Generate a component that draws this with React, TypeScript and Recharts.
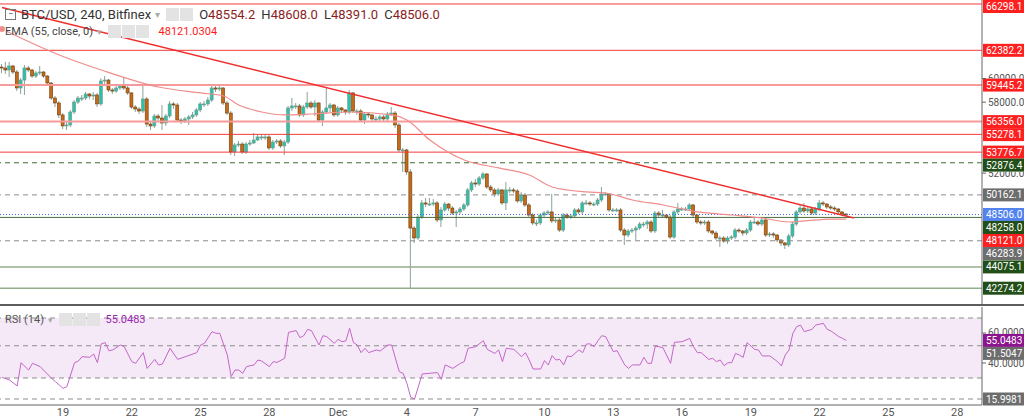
import React from "react";
import {
  ComposedChart,
  Bar,
  Line,
  XAxis,
  YAxis,
  ReferenceLine,
  ReferenceArea,
} from "recharts";

// 4h candles, Nov 16 08:00 -> Dec 23 (index 0..221); axis runs on to Dec 29
const FIRST_OPEN = 60970;

const closes = [
  60890, 60720, 61060, 60550, 59200, 59870, 60890, 60720, 60210, 60470,
  60550, 60210, 59620, 58350, 57930, 56920, 55990, 56070, 57170, 58010,
  58350, 58350, 58690, 58520, 58610, 57850, 59790, 59870, 59030, 58940,
  59200, 59370, 59200, 58780, 57590, 57420, 57250, 58270, 56150, 55990,
  56830, 56660, 56240, 56830, 57850, 57760, 56490, 56410, 56580, 56750,
  56920, 57340, 57850, 57850, 58180, 59200, 59110, 59200, 57930, 57080,
  53790, 54380, 54460, 53790, 54460, 54550, 54800, 55060, 55060, 55060,
  54130, 54630, 54720, 54300, 54630, 57510, 57680, 57680, 56920, 57590,
  57930, 57590, 57930, 56490, 57170, 57510, 57760, 56920, 57510, 57340,
  57170, 58780, 57250, 57250, 56490, 57000, 56920, 56580, 56580, 56750,
  56580, 57000, 57080, 56070, 53960, 53960, 52100, 47360, 46520, 48290,
  49480, 49390, 49390, 49480, 48040, 48890, 49390, 49050, 48630, 48720,
  48970, 49310, 50580, 51170, 51080, 51590, 51930, 50830, 50580, 50240,
  50580, 49480, 50580, 50580, 50490, 49650, 50150, 49310, 48460, 47790,
  47790, 48460, 48630, 48720, 47960, 48040, 47190, 48460, 48290, 48380,
  48890, 48720, 49480, 49480, 49390, 49390, 49730, 50240, 50240, 48890,
  48890, 48890, 47190, 46770, 47110, 47190, 47360, 47700, 47700, 47870,
  47110, 48630, 48460, 48460, 48290, 46600, 48720, 48970, 48970, 48970,
  49310, 48460, 47870, 47790, 47870, 47110, 46940, 46520, 46520, 46260,
  46520, 46600, 47190, 47110, 46940, 47190, 47870, 47870, 47700, 48040,
  46770, 46860, 46770, 46350, 46100, 45930, 46690, 47700, 48720, 49050,
  48800, 48970, 48630, 48970, 49480, 49390, 49140, 49050, 48970, 48720,
  48550, 48506,
];

const highs = [
  61230, 61400, 61400, 61150, 60720, 60040, 61140, 61060, 60800, 60640,
  61060, 60640, 60300, 59700, 58520, 58100, 57080, 56320, 57340, 58180,
  58520, 58610, 58860, 58780, 58860, 58780, 60040, 60210, 59960, 59200,
  59370, 59540, 60130, 59370, 58860, 57760, 57590, 59450, 58440, 56320,
  57000, 57000, 57760, 57000, 58100, 58020, 57930, 56660, 56750, 56920,
  57170, 57510, 58020, 58100, 58440, 59450, 59450, 59450, 59280, 58100,
  57250, 54550, 54720, 54630, 54630, 54800, 55390, 55310, 55310, 55220,
  55220, 54800, 54890, 54890, 54800, 57680, 58350, 57930, 57850, 57760,
  58860, 58100, 58180, 58020, 57340, 59280, 57930, 57850, 57680, 57590,
  57420, 59030, 58860, 57420, 57420, 57170, 57170, 57000, 56830, 56920,
  56920, 57170, 57590, 57250, 56240, 54130, 54040, 52350, 47530, 48460,
  49730, 49900, 49900, 49810, 49650, 49140, 49560, 49480, 49220, 48890,
  49140, 49480, 50750, 51340, 51500, 51760, 52100, 52010, 51000, 50750,
  50750, 50660, 51250, 50830, 50750, 50660, 50410, 50320, 49480, 48630,
  48040, 48630, 48800, 48890, 50240, 48210, 48210, 48630, 48630, 48550,
  49050, 49050, 49650, 49730, 49650, 49560, 49900, 50830, 50410, 50320,
  49050, 49050, 49050, 47360, 47280, 47360, 47530, 47870, 47870, 48040,
  48040, 48800, 48800, 48890, 48550, 48460, 48890, 49480, 49140, 49140,
  49480, 49390, 48550, 48040, 48040, 48040, 47190, 47110, 46690, 46690,
  46690, 46770, 47360, 47360, 47190, 47360, 48040, 48290, 48040, 48290,
  48130, 47020, 47020, 46860, 46430, 46180, 46860, 47870, 48890, 49310,
  49480, 49140, 49140, 49140, 49730, 49650, 49480, 49310, 49220, 49050,
  48800, 48608,
];

const lows = [
  60460, 60380, 60130, 60380, 58940, 58690, 58610, 60550, 60040, 60040,
  60300, 60040, 59370, 58180, 57590, 56660, 55730, 55650, 55900, 57000,
  57850, 58100, 58180, 58270, 58180, 57590, 57680, 59540, 58860, 58690,
  58780, 59030, 59030, 58610, 57420, 57170, 57000, 57080, 55900, 55650,
  55820, 56320, 55650, 55990, 56660, 57420, 56320, 56150, 56240, 56070,
  56580, 56750, 57170, 57590, 57680, 58020, 58860, 58940, 57760, 56920,
  53530, 53450, 54210, 53620, 53620, 54300, 54460, 54720, 54800, 54800,
  53960, 53960, 54460, 54130, 53530, 54460, 57250, 57420, 56750, 56750,
  57420, 57420, 56830, 56320, 55990, 57000, 57170, 56750, 56750, 57080,
  56920, 57000, 57080, 56920, 56320, 56150, 56660, 56320, 56410, 56410,
  56320, 56410, 56830, 55820, 53790, 52100, 51850, 42200, 46100, 46350,
  48130, 49140, 49220, 49220, 47870, 47450, 48720, 48800, 48460, 47450,
  48550, 48800, 49140, 50410, 50830, 50910, 51420, 50660, 50410, 49980,
  50070, 49310, 48890, 50320, 50320, 49480, 49480, 49140, 48290, 47620,
  47530, 47620, 48290, 48460, 47790, 47790, 47020, 47020, 48130, 48130,
  48210, 48550, 48550, 49310, 49220, 49220, 49220, 49560, 50070, 48720,
  48720, 48720, 47020, 45930, 46600, 46940, 46350, 47190, 47450, 47280,
  46940, 46940, 48290, 48290, 48130, 46430, 46430, 48550, 48800, 48800,
  48800, 48290, 47700, 47620, 47620, 46940, 46770, 46350, 45760, 46100,
  46020, 46350, 46430, 46940, 46690, 46770, 47020, 47700, 47530, 47530,
  46600, 46600, 46520, 46180, 45840, 45590, 45760, 46520, 47530, 48550,
  48630, 48630, 48460, 48460, 48800, 49220, 48970, 48890, 48800, 48550,
  48380, 48391,
];

// EMA(55) at [candle index, value]
const emaReadings: [number, number][] = [
  [0, 64185], [15, 61990], [26, 60720], [41, 59280], [52, 58780],
  [58, 58520], [62, 57760], [68, 57170], [74, 56920], [81, 57000],
  [91, 57170], [102, 56920], [106, 56490], [112, 54800], [121, 53110],
  [130, 52440], [138, 51840], [144, 50830], [153, 50410], [158, 50320],
  [165, 49730], [173, 49310], [182, 48720], [191, 48460], [199, 48210],
  [206, 47870], [210, 47960], [217, 48120], [221, 48121],
];

const rsiReadings: [number, number][] = [
  [0, 30.4], [2, 28.7], [4, 24.7], [5, 40.2], [7, 35.3], [8, 39.8], [10, 37.6],
  [13, 29.8], [14, 27.6], [16, 23.1], [17, 24.2], [19, 40.2], [20, 41.3],
  [21, 44.2], [23, 43.8], [24, 46.0], [25, 40.2], [26, 52.7], [27, 53.6],
  [28, 48.2], [29, 48.7], [31, 52.0], [32, 50.9], [34, 40.9], [35, 39.8],
  [37, 46.9], [38, 36.4], [40, 42.4], [41, 38.7], [42, 39.3], [44, 49.8],
  [46, 42.4], [48, 44.2], [51, 46.9], [52, 52.0], [53, 53.1], [55, 60.9],
  [56, 59.8], [57, 59.8], [59, 45.3], [60, 30.9], [61, 35.3], [62, 35.3],
  [63, 33.1], [64, 37.6], [66, 38.7], [67, 42.0], [68, 41.3], [70, 37.6],
  [71, 40.9], [72, 40.4], [74, 43.1], [75, 60.4], [77, 61.6], [78, 56.9],
  [79, 58.2], [80, 62.4], [81, 61.6], [83, 52.0], [84, 58.2], [85, 57.6],
  [87, 53.1], [88, 55.8], [89, 54.2], [90, 54.7], [91, 63.1], [92, 53.6],
  [93, 52.0], [94, 46.9], [95, 49.8], [96, 46.9], [98, 48.7], [99, 48.0],
  [101, 52.0], [102, 52.0], [104, 34.2], [105, 33.1], [106, 26.4],
  [107, 17.1], [108, 16.0], [110, 32.7], [114, 33.6], [115, 29.1],
  [116, 38.7], [118, 36.4], [120, 39.8], [121, 40.9], [122, 49.8],
  [124, 50.9], [126, 54.9], [127, 49.1], [129, 46.4], [130, 48.7],
  [131, 40.9], [132, 49.8], [134, 49.1], [136, 44.2], [137, 46.9],
  [138, 42.0], [139, 36.0], [141, 36.0], [142, 41.6], [143, 38.7],
  [144, 44.9], [145, 42.0], [146, 42.4], [147, 38.7], [148, 44.7],
  [149, 44.2], [151, 48.7], [152, 46.9], [153, 52.7], [154, 52.7],
  [155, 50.9], [156, 54.9], [157, 58.2], [158, 57.6], [160, 47.6],
  [161, 48.2], [163, 38.7], [164, 36.4], [165, 38.7], [167, 38.7],
  [168, 43.8], [169, 39.8], [170, 39.8], [171, 51.3], [173, 50.2],
  [175, 39.8], [176, 53.8], [178, 54.2], [180, 56.4], [181, 50.9],
  [182, 46.9], [183, 46.9], [185, 42.4], [186, 43.1], [187, 40.9],
  [188, 42.0], [189, 38.2], [190, 40.2], [191, 40.2], [192, 46.4],
  [193, 45.3], [194, 43.8], [195, 53.6], [197, 49.1], [198, 48.7],
  [199, 44.7], [201, 44.7], [203, 40.9], [204, 38.0], [205, 45.3],
  [206, 48.7], [207, 59.8], [208, 64.2], [209, 65.3], [210, 60.9],
  [212, 62.4], [213, 65.3], [215, 66.4], [216, 62.4], [217, 61.3],
  [219, 57.6], [220, 56.4], [221, 55.0483],
];

const tickIndex = [16, 34, 52, 70, 88, 106, 124, 142, 160, 178, 196, 214, 232, 250];
const tickLabels = ["19", "22", "25", "28", "Dec", "4", "7", "10", "13", "16", "19", "22", "25", "28"];

const levelPrices = [
  66298.1, 62382.2, 59445.2, 56356.0, 55278.1, 53776.7, 52876.4,
  50162.1, 48506.0, 48258.0, 48121.0, 46283.9, 44075.1, 42274.2,
];
const rsiLevels = [55.0483, 51.5047, 15.9981];
const priceTicks = [44000, 46000, 48000, 50000, 52000, 54000, 56000, 58000, 60000, 62000, 64000, 66000];
const rsiTicks = [20, 40, 60];

const trendStart = { i: 0, price: 66000 };
const trendEnd = { i: 223, price: 48210 };

const SLOTS = 257;
const MAIN_H = 304;
const RSI_TOP = 1;
const RSI_H = 98;
const PRICE_MAX = 66636;
const PRICE_MIN = 40939;
const RSI_MIN = 12;
const RSI_MAX = 77.33;
const TAG_H = 13;
const FONT = "Roboto, 'DejaVu Sans', sans-serif";

const RED = "#ff1f1f";
const DKGREEN = "#214f17";
const GREY = "#6d6d6d";

const LEVEL_STYLE = [
  { stroke: "#f23a3a", w: 1, tag: RED },
  { stroke: "#f23a3a", w: 1, tag: RED },
  { stroke: "#f79a9a", w: 2, tag: RED },
  { stroke: "#f79a9a", w: 2, tag: RED },
  { stroke: "#f23a3a", w: 1, tag: RED },
  { stroke: "#f23a3a", w: 1, tag: RED },
  { stroke: "#3c6a2d", w: 1, dash: "5 4", tag: DKGREEN },
  { stroke: "#8c8c8c", w: 1, dash: "5 4", tag: GREY },
  { stroke: "#3a6cf2", w: 1, dash: "1 2", tag: "#5383ee" },
  { stroke: "#4b6b3b", w: 1, tag: DKGREEN },
  { stroke: "none", w: 0, tag: RED },
  { stroke: "#8c8c8c", w: 1, dash: "5 4", tag: GREY },
  { stroke: "#94ac8b", w: 1.5, tag: DKGREEN },
  { stroke: "#94ac8b", w: 1.5, tag: DKGREEN },
];
const RSI_STYLE = [
  { stroke: "none", dash: undefined, tag: "#8d148f" },
  { stroke: "#8c8c8c", dash: "5 4", tag: GREY },
  { stroke: "#8c8c8c", dash: "5 4", tag: GREY },
];

const rows = Array.from({ length: SLOTS }, (_, i) => {
  const row: any = { i };
  if (i < closes.length) {
    row.open = i === 0 ? FIRST_OPEN : closes[i - 1];
    row.close = closes[i];
    row.high = highs[i];
    row.low = lows[i];
    row.range = [lows[i], highs[i]];
  }
  return row;
});
emaReadings.forEach(([i, v]) => (rows[i].ema = v));
rsiReadings.forEach(([i, v]) => (rows[i].rsi = v));

// push overlapping price tags down, like the price scale does
function tagCentres(values: number[], min: number, max: number, h: number) {
  let last = TAG_H / 2 - TAG_H;
  return values.map((v) => {
    const y = ((max - v) / (max - min)) * h;
    const placed = Math.max(y, last + TAG_H);
    last = placed;
    return { y, placed };
  });
}
const levelTags = tagCentres(levelPrices, PRICE_MIN, PRICE_MAX, MAIN_H);
const rsiTags = tagCentres(rsiLevels, RSI_MIN, RSI_MAX, RSI_H);
const mainBoxes = levelTags.map((t) => [t.placed - TAG_H / 2, t.placed + TAG_H / 2]);
const rsiBoxes = rsiTags.map((t) => [RSI_TOP + t.placed - TAG_H / 2, RSI_TOP + t.placed + TAG_H / 2]);

function Candle(props: any) {
  const { x, y, width, height, payload } = props;
  if (!payload || payload.high == null) return null;
  const top = Math.min(y, y + height);
  const bot = Math.max(y, y + height);
  const span = payload.high - payload.low || 1;
  const at = (v: number) => top + ((payload.high - v) / span) * (bot - top);
  const yo = at(payload.open);
  const yc = at(payload.close);
  const up = payload.close >= payload.open;
  const cx = x + width / 2;
  return (
    <g>
      <line x1={cx} x2={cx} y1={top} y2={bot} stroke="#8aa396" strokeWidth={1} />
      <rect
        x={x}
        y={Math.min(yo, yc)}
        width={width}
        height={Math.max(1, Math.abs(yc - yo))}
        fill={up ? "#2cc2aa" : "#c56b17"}
        stroke={up ? "#6f968a" : "#6e3d10"}
        strokeWidth={0.6}
      />
    </g>
  );
}

function Tag(props: any) {
  const { viewBox, text, bg, dy } = props;
  if (!viewBox) return null;
  const x = viewBox.x + viewBox.width + 1;
  const y = viewBox.y + dy;
  return (
    <g>
      <rect x={x} y={y - TAG_H / 2} width={41} height={TAG_H} fill={bg} />
      <text x={x + 3} y={y + 3.5} fill="#fff" fontSize={10} fontFamily={FONT}>
        {text}
      </text>
    </g>
  );
}

// axis label that is hidden where a price tag covers it
function ScaleTick(props: any) {
  const { x, y, payload, boxes, digits } = props;
  let top = y - 6;
  let bot = y + 6;
  for (const [bt, bb] of boxes) {
    if (bb <= top || bt >= bot) continue;
    if (y < bt) bot = Math.min(bot, bt);
    else if (y > bb) top = Math.max(top, bb);
    else return null;
  }
  if (bot - top < 2) return null;
  return (
    <g>
      <line x1={x - 6} x2={x - 2} y1={y} y2={y} stroke="#666" />
      <svg x={x} y={top} width={38} height={bot - top}>
        <text x={0} y={y - top + 3.5} fontSize={10} fill="#555" fontFamily={FONT}>
          {Number(payload.value).toFixed(digits)}
        </text>
      </svg>
    </g>
  );
}

function Icons({ n }: { n: number }) {
  return (
    <span style={{ display: "inline-flex", gap: 1, marginLeft: 6, marginRight: 6 }}>
      {Array.from({ length: n }, (_, k) => (
        <span
          key={k}
          style={{ width: 13, height: 13, background: "#e3e3e3", display: "inline-block" }}
        />
      ))}
    </span>
  );
}

export default function App() {
  return (
    <div
      style={{
        position: "absolute",
        left: 0,
        top: 0,
        width: 1024,
        height: 420,
        background: "#fff",
        overflow: "hidden",
        fontFamily: FONT,
      }}
    >
      <ComposedChart width={1024} height={MAIN_H} data={rows} margin={{ top: 0, right: 0, left: 0, bottom: 0 }}>
        <XAxis dataKey="i" type="category" scale="band" hide />
        <YAxis
          orientation="right"
          width={42}
          domain={[PRICE_MIN, PRICE_MAX]}
          allowDataOverflow
          ticks={priceTicks}
          tick={<ScaleTick boxes={mainBoxes} digits={1} />}
          tickSize={0}
          tickMargin={6}
          axisLine={{ stroke: "#666" }}
          tickLine={false}
        />
        {levelPrices.map((p, k) => (
          <ReferenceLine
            key={`lvl-${k}`}
            y={p}
            stroke={LEVEL_STYLE[k].stroke}
            strokeWidth={LEVEL_STYLE[k].w}
            strokeDasharray={LEVEL_STYLE[k].dash}
            label={<Tag text={p.toFixed(1)} bg={LEVEL_STYLE[k].tag} dy={levelTags[k].placed - levelTags[k].y} />}
          />
        ))}
        <Bar dataKey="range" barSize={3} shape={Candle} isAnimationActive={false} />
        <Line
          dataKey="ema"
          type="monotone"
          connectNulls
          stroke="#f08c8c"
          strokeWidth={1.2}
          dot={false}
          isAnimationActive={false}
        />
        <ReferenceLine
          segment={[
            { x: trendStart.i, y: trendStart.price },
            { x: trendEnd.i, y: trendEnd.price },
          ]}
          stroke="#f02e2e"
          strokeWidth={1.5}
        />
      </ComposedChart>

      <div style={{ position: "absolute", left: 0, top: MAIN_H, width: 1024, height: 2, background: "#5c5c5c" }} />

      <div style={{ position: "absolute", left: 0, top: 306 }}>
        <ComposedChart width={1024} height={114} data={rows} margin={{ top: RSI_TOP, right: 0, left: 0, bottom: 0 }}>
          <XAxis
            dataKey="i"
            type="category"
            scale="band"
            ticks={tickIndex}
            interval={0}
            tickFormatter={(v: number) => tickLabels[tickIndex.indexOf(v)] ?? ""}
            height={15}
            tickSize={0}
            tickMargin={3}
            tick={{ fontSize: 11, fill: "#555", fontFamily: FONT }}
            axisLine={{ stroke: "#666" }}
          />
          <YAxis
            orientation="right"
            width={42}
            domain={[RSI_MIN, RSI_MAX]}
            allowDataOverflow
            ticks={rsiTicks}
            tick={<ScaleTick boxes={rsiBoxes} digits={4} />}
            tickSize={0}
            tickMargin={6}
            axisLine={{ stroke: "#666" }}
            tickLine={false}
          />
          <ReferenceArea y1={30} y2={70} fill="#9c27b0" fillOpacity={0.1} stroke="none" />
          <ReferenceLine y={70} stroke="#8c8c8c" strokeDasharray="5 4" />
          <ReferenceLine y={30} stroke="#8c8c8c" strokeDasharray="5 4" />
          {rsiLevels.map((v, k) => (
            <ReferenceLine
              key={`rsi-${k}`}
              y={v}
              stroke={RSI_STYLE[k].stroke}
              strokeDasharray={RSI_STYLE[k].dash}
              label={<Tag text={v.toFixed(4)} bg={RSI_STYLE[k].tag} dy={rsiTags[k].placed - rsiTags[k].y} />}
            />
          ))}
          <Line
            dataKey="rsi"
            type="linear"
            connectNulls
            stroke="#c466c8"
            strokeWidth={1}
            dot={false}
            isAnimationActive={false}
          />
        </ComposedChart>
      </div>

      <div style={{ position: "absolute", left: 5, top: 7, display: "flex", alignItems: "center", fontSize: 13, color: "#333", whiteSpace: "nowrap" }}>
        <span style={{ width: 9, height: 9, border: "1px solid #777", marginRight: 5, fontSize: 9, lineHeight: "8px", textAlign: "center", color: "#555" }}>−</span>
        <span>BTC/USD, 240, Bitfinex</span>
        <span style={{ color: "#aaa", fontSize: 10, marginLeft: 4 }}>▾</span>
        <Icons n={2} />
        <span>O</span><span style={{ color: "#8b1e1e" }}>48554.2</span>
        <span style={{ marginLeft: 6 }}>H</span><span style={{ color: "#8b1e1e" }}>48608.0</span>
        <span style={{ marginLeft: 6 }}>L</span><span style={{ color: "#8b1e1e" }}>48391.0</span>
        <span style={{ marginLeft: 6 }}>C</span><span style={{ color: "#8b1e1e" }}>48506.0</span>
      </div>
      <div style={{ position: "absolute", left: 5, top: 25, display: "flex", alignItems: "center", fontSize: 11, color: "#444", whiteSpace: "nowrap" }}>
        <span>EMA (55, close, 0)</span>
        <span style={{ color: "#aaa", fontSize: 9, marginLeft: 4 }}>▾</span>
        <Icons n={3} />
        <span style={{ color: "#ff1a1a", marginLeft: 4 }}>48121.0304</span>
      </div>
      <div style={{ position: "absolute", left: 5, top: 313, display: "flex", alignItems: "center", fontSize: 11, color: "#555", whiteSpace: "nowrap" }}>
        <span>RSI (14)</span>
        <span style={{ color: "#aaa", fontSize: 9, marginLeft: 4 }}>▾</span>
        <Icons n={3} />
        <span style={{ color: "#9c27b0" }}>55.0483</span>
      </div>
    </div>
  );
}
